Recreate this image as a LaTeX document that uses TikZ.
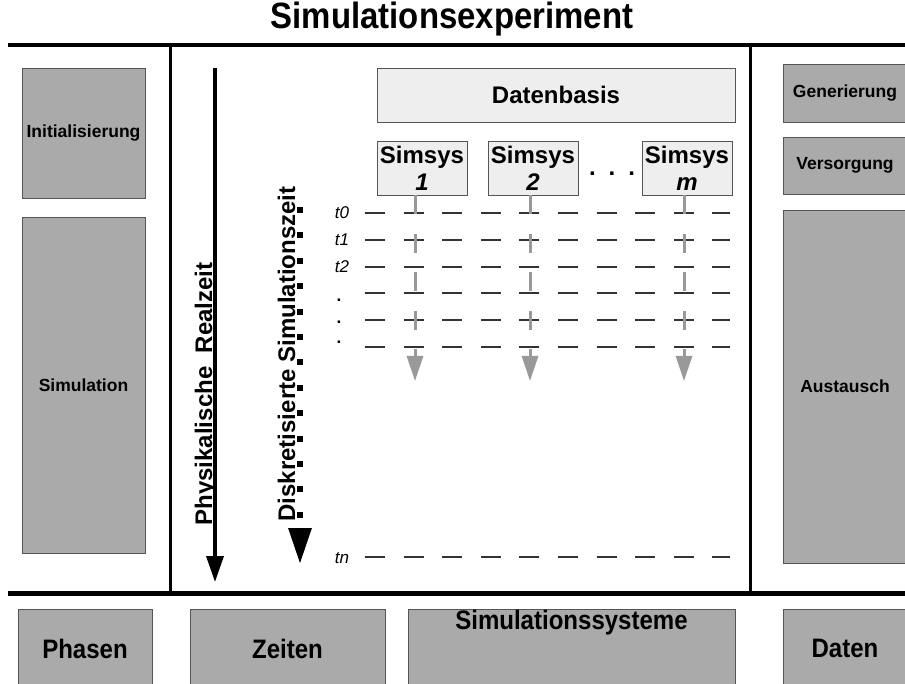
\documentclass[tikz,border=0pt]{standalone}
\usepackage{fontspec}
\setmainfont{Liberation Sans}
\newfontfamily\narrowsans{Liberation Sans}[FakeStretch=0.9]
\usetikzlibrary{arrows.meta}

\definecolor{panegray}{HTML}{AAAAAA}
\definecolor{paneedge}{HTML}{555555}
\definecolor{lightfill}{HTML}{EEEEEE}
\definecolor{tickgray}{HTML}{999999}

\begin{document}
\begin{tikzpicture}[x=1pt, y=-1pt,
    every node/.style={font=\bfseries},
    rule/.style={line width=#1, black},
    pane/.style={draw=paneedge, fill=panegray, line width=0.9pt, align=center, inner sep=0pt,
                 font=\fontsize{17.5}{20}\selectfont\bfseries},
    basis/.style={draw=paneedge, fill=lightfill, line width=0.9pt, align=center, inner sep=0pt,
                  font=\fontsize{24}{27}\selectfont\bfseries},
    footer/.style={pane, font=\narrowsans\fontsize{26.7}{29}\selectfont\bfseries},
    axis/.style={font=\fontsize{24}{28}\selectfont\bfseries, rotate=90, anchor=base},
    tlabel/.style={font=\fontsize{17}{20}\selectfont\itshape, anchor=base},
    slot/.style={line width=1.3pt, black!80, dash pattern=on 20pt off 18.6pt},
    tick/.style={line width=3pt, tickgray, dash pattern=on 19pt off 19.5pt,
                 -{Triangle[length=25pt,width=16pt]}},
    realtime/.style={line width=3.5pt, -{Triangle[length=26pt,width=17pt]}},
    simtime/.style={line width=6pt, dash pattern=on 6pt off 19.4pt,
                    -{Triangle[length=36pt,width=22pt]}}
]
\useasboundingbox (0,0) rectangle (905,684);

% title and frame
\node[font=\narrowsans\fontsize{36.6}{40}\selectfont\bfseries] (title) at (452,19) {Simulationsexperiment};
\draw[rule=4pt] (8,45) -- (905,45);
\draw[rule=5pt] (8,593) -- (905,593);
\draw[rule=3pt] (170,45) -- (170,593);
\draw[rule=3pt] (750,45) -- (750,593);

% phases (left)
\node[pane, minimum width=123pt, minimum height=130pt] (init) at (83.5,133) {Initialisierung};
\node[pane, minimum width=123pt, minimum height=336pt] (sim) at (83.5,385) {Simulation};

% data (right)
\node[pane, minimum width=123pt, minimum height=58pt] (gen) at (845,93) {Generierung};
\node[pane, minimum width=123pt, minimum height=57pt] (supply) at (845,165.5) {Versorgung};
\node[pane, minimum width=123pt, minimum height=353pt] (exch) at (845,386.5) {Austausch};

% legend row
\node[footer, minimum width=134pt, minimum height=79pt] (phases) at (85,648.5) {Phasen};
\node[footer, minimum width=195pt, minimum height=79pt] (times) at (287.5,648.5) {Zeiten};
\node[footer, minimum width=327pt, minimum height=79pt] (systems) at (571.5,648.5) {Simulationssysteme\\[29pt]\mbox{}};
\node[footer, minimum width=123pt, minimum height=79pt] (data) at (845,648.5) {Daten};

% data base and simulation systems
\node[basis, minimum width=358pt, minimum height=54pt] (db) at (556,95) {Datenbasis};
\node[basis, minimum width=90pt, minimum height=54pt] (s1) at (422,168) {Simsys\\\textit{1}};
\node[basis, minimum width=90pt, minimum height=54pt] (s2) at (533,168) {Simsys\\\textit{2}};
\node[basis, minimum width=90pt, minimum height=54pt] (sm) at (687,168) {Simsys\\\textit{m}};
\node[font=\fontsize{24}{27}\selectfont\bfseries, anchor=base] (more) at (612,176) {.\hspace{13pt}.\hspace{13pt}.};

% physical time
\coordinate (rtop) at (215,68);
\coordinate (rbot) at (215,582);
\draw[realtime] (rtop) -- (rbot);
\node[axis] (real) at (212,394) {Physikalische\ \ Realzeit};

% discretised simulation time
\coordinate (dtop) at (300,207);
\coordinate (dbot) at (300,564);
\draw[simtime] (dtop) -- (dbot);
\node[axis] (disc) at (295,354) {Diskretisierte Simulationszeit};

% time steps
\node[tlabel] (t0) at (342,219) {t0};
\node[tlabel] (t1) at (342,246) {t1};
\node[tlabel] (t2) at (342,273) {t2};
\foreach \y [count=\i] in {302,324,344}
  \node[tlabel, font=\fontsize{17}{20}\selectfont\bfseries] (gap\i) at (339,\y) {.};
\node[tlabel] (tn) at (342,563) {tn};
\foreach \y in {213,240,267,293,320,347,557}
  \draw[slot] (365,\y) -- (730,\y);

% per-system time lines
\coordinate (e1) at (415,381);
\coordinate (e2) at (530,381);
\coordinate (em) at (684,381);
\draw[tick] (s1.south -| e1) -- (e1);
\draw[tick] (s2.south -| e2) -- (e2);
\draw[tick] (sm.south -| em) -- (em);
\end{tikzpicture}
\end{document}
